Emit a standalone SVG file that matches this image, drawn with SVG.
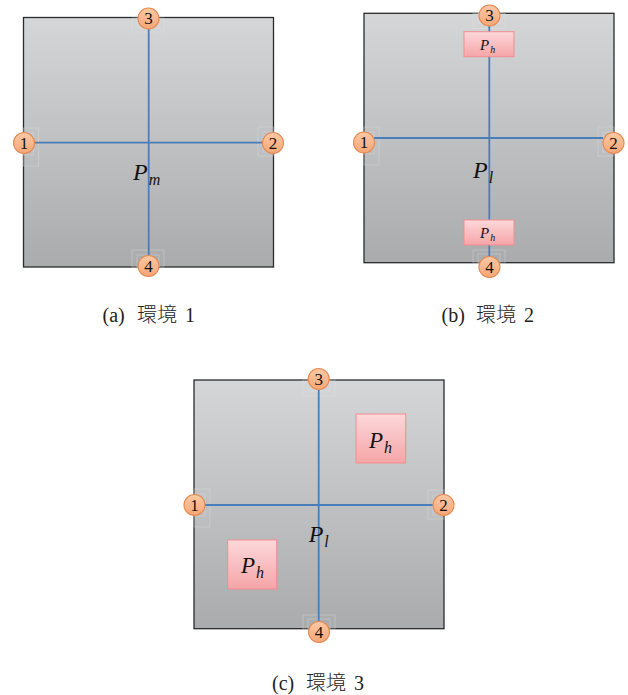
<svg xmlns="http://www.w3.org/2000/svg" width="628" height="695" viewBox="0 0 628 695">
<defs>
<linearGradient id="gray" x1="0" y1="0" x2="0" y2="1">
<stop offset="0" stop-color="#d5d6d8"/>
<stop offset="1" stop-color="#aaabad"/>
</linearGradient>
<linearGradient id="pink" x1="0" y1="0" x2="0" y2="1">
<stop offset="0" stop-color="#fcd8da"/>
<stop offset="1" stop-color="#f5a5a8"/>
</linearGradient>
<linearGradient id="orange" x1="0" y1="0" x2="0" y2="1">
<stop offset="0" stop-color="#fcc9a6"/>
<stop offset="1" stop-color="#f6a676"/>
</linearGradient>
</defs>
<style>
.room{fill:url(#gray);stroke:#2b2b2b;stroke-width:1.3}
.frame{fill:none;stroke:#e4e4e6;stroke-width:0.7;opacity:0.5}
.link{stroke:#4a7ebb;stroke-width:1.8;fill:none}
.door circle{fill:url(#orange);stroke:#e48a52;stroke-width:1.1}
.door text{font-family:"Liberation Serif",serif;font-size:17px;text-anchor:middle;fill:#111}
.heat{fill:url(#pink);stroke:#f18d92;stroke-width:1}
.lbl{font-family:"Liberation Serif",serif;font-style:italic;fill:#111}
.cap{font-family:"Liberation Serif","Noto Sans CJK JP",serif;font-size:20px;fill:#222}
.cj{font-family:"Noto Sans CJK JP",sans-serif;font-weight:300}
</style>

<!-- Panel a -->
<g id="room-a">
<rect class="room" x="23.5" y="17.5" width="250" height="249.5"/>
<rect class="frame" x="132" y="18" width="32" height="14"/>
<rect class="frame" x="137" y="18" width="22" height="10"/>
<rect class="frame" x="23.5" y="128" width="15" height="38"/>
<rect class="frame" x="23.5" y="133" width="10" height="22"/>
<rect class="frame" x="258" y="127" width="15.5" height="29"/>
<rect class="frame" x="263" y="132" width="10" height="20"/>
<rect class="frame" x="132" y="250" width="32" height="17"/>
<rect class="frame" x="137" y="255" width="22" height="12"/>
</g>
<g id="connectors-a">
<line class="link" x1="34" y1="142.7" x2="263" y2="142.7"/>
<line class="link" x1="148.7" y1="29" x2="148.7" y2="256"/>
</g>
<g id="label-a"><text class="lbl" x="133" y="180" font-size="24">P<tspan font-size="16" dx="1" dy="5">m</tspan></text></g>
<g id="a-door3" class="door"><circle cx="148.5" cy="18.5" r="10.5"/><text x="148.5" y="24.3">3</text></g>
<g id="a-door1" class="door"><circle cx="24" cy="143" r="10.5"/><text x="24" y="148.8">1</text></g>
<g id="a-door2" class="door"><circle cx="273" cy="143" r="10.5"/><text x="273" y="148.8">2</text></g>
<g id="a-door4" class="door"><circle cx="148.5" cy="266" r="10.5"/><text x="148.5" y="271.8">4</text></g>

<!-- Panel b -->
<g id="room-b">
<rect class="room" x="364" y="13.3" width="250" height="249.4"/>
<rect class="frame" x="473" y="13.5" width="32" height="15"/>
<rect class="frame" x="478" y="13.5" width="22" height="10"/>
<rect class="frame" x="364" y="127" width="15" height="38"/>
<rect class="frame" x="364" y="132" width="10" height="22"/>
<rect class="frame" x="598" y="127" width="16" height="29"/>
<rect class="frame" x="603" y="132" width="11" height="20"/>
<rect class="frame" x="473" y="250" width="32" height="13"/>
<rect class="frame" x="478" y="254" width="22" height="9"/>
</g>
<g id="connectors-b">
<line class="link" x1="374" y1="138" x2="603" y2="138"/>
<line class="link" x1="489.3" y1="25" x2="489.3" y2="257"/>
</g>
<g id="b-heat-top"><rect class="heat" x="464" y="31.7" width="50" height="25"/><text class="lbl" x="480" y="49.5" font-size="15">P<tspan font-size="10" dx="1" dy="3">h</tspan></text></g>
<g id="b-heat-bottom"><rect class="heat" x="464" y="220" width="50" height="25"/><text class="lbl" x="480" y="237.8" font-size="15">P<tspan font-size="10" dx="1" dy="3">h</tspan></text></g>
<g id="label-b"><text class="lbl" x="473" y="178" font-size="24">P<tspan font-size="16" dx="1" dy="5">l</tspan></text></g>
<g id="b-door3" class="door"><circle cx="489.5" cy="15.5" r="10.5"/><text x="489.5" y="21.3">3</text></g>
<g id="b-door1" class="door"><circle cx="364" cy="142.5" r="10.5"/><text x="364" y="148.3">1</text></g>
<g id="b-door2" class="door"><circle cx="613.5" cy="143" r="10.5"/><text x="613.5" y="148.8">2</text></g>
<g id="b-door4" class="door"><circle cx="489.5" cy="267" r="10.5"/><text x="489.5" y="272.8">4</text></g>

<!-- Panel c -->
<g id="room-c">
<rect class="room" x="194" y="380" width="250" height="248.7"/>
<rect class="frame" x="303" y="380" width="32" height="16"/>
<rect class="frame" x="308" y="380" width="22" height="11"/>
<rect class="frame" x="194" y="489" width="16" height="38"/>
<rect class="frame" x="194" y="494" width="11" height="22"/>
<rect class="frame" x="428" y="490" width="16" height="29"/>
<rect class="frame" x="433" y="495" width="11" height="20"/>
<rect class="frame" x="303" y="615" width="32" height="14"/>
<rect class="frame" x="308" y="619" width="22" height="10"/>
</g>
<g id="connectors-c">
<line class="link" x1="205" y1="505" x2="433" y2="505"/>
<line class="link" x1="318.7" y1="390" x2="318.7" y2="622"/>
</g>
<g id="c-heat-tr"><rect class="heat" x="356" y="414" width="49.7" height="49"/><text class="lbl" x="369" y="448" font-size="23">P<tspan font-size="16" dx="1" dy="5">h</tspan></text></g>
<g id="c-heat-bl"><rect class="heat" x="227.7" y="540" width="49" height="49"/><text class="lbl" x="241" y="573" font-size="23">P<tspan font-size="16" dx="1" dy="5">h</tspan></text></g>
<g id="label-c"><text class="lbl" x="308.7" y="541.7" font-size="24">P<tspan font-size="16" dx="1" dy="5">l</tspan></text></g>
<g id="c-door3" class="door"><circle cx="318.7" cy="379" r="10.5"/><text x="318.7" y="384.8">3</text></g>
<g id="c-door1" class="door"><circle cx="194.5" cy="505" r="10.5"/><text x="194.5" y="510.8">1</text></g>
<g id="c-door2" class="door"><circle cx="443.5" cy="505" r="10.5"/><text x="443.5" y="510.8">2</text></g>
<g id="c-door4" class="door"><circle cx="319" cy="632" r="10.5"/><text x="319" y="637.8">4</text></g>

<!-- Captions -->
<text class="cap" y="322"><tspan x="102.5">(a)</tspan><tspan class="cj" x="137">環境</tspan><tspan x="185">1</tspan></text>
<text class="cap" y="322"><tspan x="441.5">(b)</tspan><tspan class="cj" x="476">環境</tspan><tspan x="524">2</tspan></text>
<text class="cap" y="690"><tspan x="272">(c)</tspan><tspan class="cj" x="306">環境</tspan><tspan x="354">3</tspan></text>
</svg>
